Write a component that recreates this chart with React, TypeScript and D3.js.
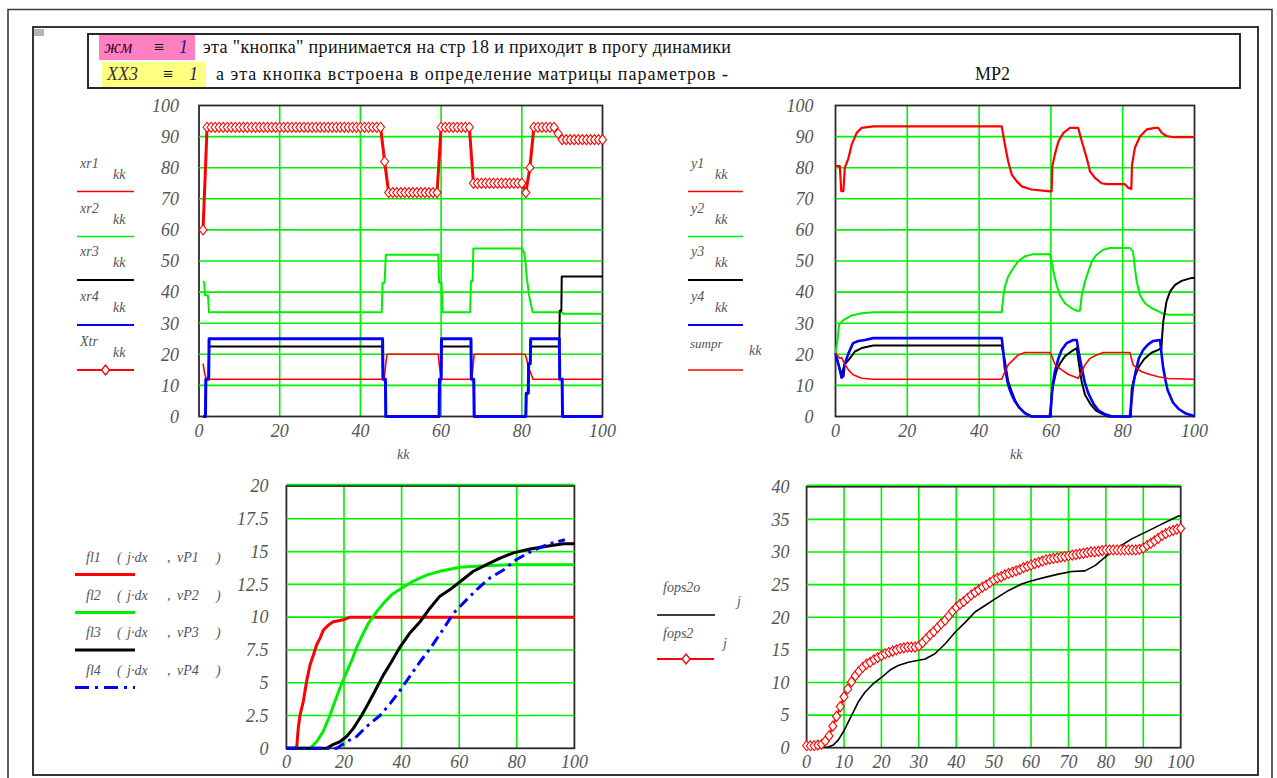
import * as d3 from 'd3';

type P = [number, number];

// ---------- top-left panel: xr1..xr4, Xtr against kk ----------
const xr1: P[] = [[1, 17], [1.4, 14], [1.8, 12], [45.9, 12], [46.2, 16], [46.6, 20], [59.3, 20], [59.6, 16], [60.1, 12], [67.6, 12], [67.9, 16], [68.2, 20], [80.8, 20], [81.2, 18.5], [81.6, 16], [82.8, 12], [100, 12]];
const xr2: P[] = [[1, 43.5], [1.3, 43], [1.5, 39], [2.2, 39], [2.5, 33.5], [45.3, 33.5], [45.5, 43], [46, 43], [46.3, 52], [59.3, 52], [59.5, 43], [60.1, 43], [60.4, 33.5], [67.2, 33.5], [67.4, 43.5], [67.8, 43.5], [68, 54], [80, 54], [80.5, 53], [80.9, 50], [81.2, 45], [81.8, 39], [82.7, 33.5], [89.9, 33.5], [90.3, 33], [100, 33]];
const xr3: P[] = [[1, 0], [1.6, 0], [1.7, 12], [2.4, 12], [2.5, 22.5], [45.5, 22.5], [45.6, 12], [46.2, 12], [46.3, 0], [59.5, 0], [59.6, 12], [60, 12], [60.1, 22.5], [67.4, 22.5], [67.5, 12], [68.1, 12], [68.2, 0], [81, 0], [81.1, 7.5], [81.6, 7.5], [81.7, 17], [82.1, 17], [82.2, 22.5], [89.3, 22.5], [89.4, 34], [89.8, 34], [89.9, 45], [100, 45]];
const xr4: P[] = [[1, 0], [1.6, 0], [1.7, 12], [2.4, 12], [2.5, 25], [45.5, 25], [45.6, 12], [46.2, 12], [46.3, 0], [59.5, 0], [59.6, 12], [60, 12], [60.1, 25], [67.4, 25], [67.5, 12], [68.1, 12], [68.2, 0], [81, 0], [81.1, 7.5], [81.6, 7.5], [81.7, 17], [82.1, 17], [82.2, 25], [89.3, 25], [89.4, 12], [90, 12], [90.1, 0], [100, 0]];
// Xtr for kk = 1..100
const xtr: number[] = [
  60, 93, 93, 93, 93, 93, 93, 93, 93, 93,
  93, 93, 93, 93, 93, 93, 93, 93, 93, 93,
  93, 93, 93, 93, 93, 93, 93, 93, 93, 93,
  93, 93, 93, 93, 93, 93, 93, 93, 93, 93,
  93, 93, 93, 93, 93, 82, 72, 72, 72, 72,
  72, 72, 72, 72, 72, 72, 72, 72, 72, 93,
  93, 93, 93, 93, 93, 93, 93, 75, 75, 75,
  75, 75, 75, 75, 75, 75, 75, 75, 75, 75,
  72, 80, 93, 93, 93, 93, 93, 93, 91, 89,
  89, 89, 89, 89, 89, 89, 89, 89, 89, 89,
];

// ---------- top-right panel: y1..y4, sumpr against kk ----------
const y1: P[] = [[0, 80.5], [1.2, 80.5], [1.6, 72.5], [2.2, 72.5], [2.6, 80], [3.6, 83], [4.5, 87.4], [5.9, 91.2], [7.3, 92.8], [10.5, 93.3], [46.3, 93.3], [47.2, 87.4], [48.1, 82], [49.1, 77.8], [50.5, 75.6], [51.9, 74], [54.6, 73], [59.7, 72.4], [60.2, 72.4], [60.4, 80.5], [61.1, 84.2], [62.1, 88.5], [63.5, 91.2], [65.3, 92.8], [67.6, 92.8], [68.6, 88.5], [70, 83], [70.9, 78.8], [72.3, 76.7], [74.1, 75], [75.5, 74.7], [80.6, 74.7], [81.6, 73.5], [82.4, 73.2], [82.6, 81], [83.4, 86.4], [84.8, 90], [86.7, 92.3], [89, 92.8], [89.9, 92.8], [90.9, 91.2], [92.2, 90.2], [94.1, 89.8], [100, 89.8]];
const y2: P[] = [[0, 20.3], [0.6, 25], [1, 29.5], [2.2, 31], [4.5, 32.5], [7.3, 33.2], [10.5, 33.5], [46.3, 33.5], [46.8, 39], [47.2, 41.8], [48.1, 45], [49.5, 47.7], [50.9, 49.9], [52.8, 51.5], [55.1, 52.2], [59.7, 52.2], [60.2, 50], [60.7, 46.6], [61.6, 42.3], [62.5, 39], [63.9, 36.4], [65.8, 34.8], [67.2, 34], [68.1, 34], [68.6, 39], [69.5, 43.4], [70.4, 46.6], [71.4, 49.9], [72.7, 52], [74.6, 53.6], [76.5, 54.2], [82, 54.2], [82.9, 53], [83.4, 47.7], [83.9, 43.4], [84.8, 39.1], [86.2, 36.4], [88.1, 34.8], [90, 33.8], [91.3, 33], [93, 32.7], [100, 32.7]];
const y3: P[] = [[0, 20.3], [1, 16], [1.7, 13.4], [2.5, 16.6], [4, 18.7], [5.4, 20.9], [7.3, 22], [10.5, 22.8], [46.3, 22.8], [47.2, 17.7], [48.1, 11.2], [49.1, 8], [50, 5.3], [50.9, 3.2], [52.3, 1.6], [53.7, 0.5], [55, 0], [60, 0], [60.2, 7], [60.6, 10], [61.5, 14.5], [62.5, 17], [64, 19.5], [65.8, 21], [67.2, 22], [67.8, 17], [68.6, 11], [69.5, 7], [71, 4], [72.5, 2], [74, 1], [76, 0], [82.3, 0], [82.5, 9], [83.4, 13], [84.5, 16], [86, 18.5], [88, 20.5], [89.9, 21.4], [90.8, 22], [91, 26], [91.3, 30.5], [92.2, 37], [93.2, 40.2], [94.6, 42.3], [96.4, 43.6], [99, 44.5], [100, 44.5]];
const y4: P[] = [[0, 20.3], [1, 16], [1.7, 12.5], [2.2, 13], [2.5, 16.6], [3.6, 20.3], [4.9, 23.6], [6.4, 24.3], [8.2, 24.6], [10.5, 25.2], [46.3, 25.2], [46.8, 20.3], [47.2, 15.5], [48.1, 10.1], [48.9, 7.5], [50, 4.8], [51.4, 2.6], [52.8, 1], [54.6, 0], [59.7, 0], [60.2, 5.8], [60.5, 10], [61.1, 14.4], [62.1, 18.7], [63, 21.4], [64.4, 23.6], [66.2, 24.6], [67.2, 24.6], [67.8, 20.3], [68.6, 15.5], [69.5, 10.7], [70.4, 7.5], [71.8, 4.2], [73.2, 2], [75.1, 0.7], [77, 0], [82, 0], [82.5, 5.8], [82.9, 10.1], [83.6, 14.4], [84.5, 18.7], [85.7, 21.4], [87.1, 23.2], [88.5, 24.3], [90.4, 24.6], [90.8, 20.3], [91.3, 15.5], [92, 11.2], [92.5, 8.5], [94, 4.5], [95.5, 2.5], [97.5, 1], [99.5, 0.3], [100, 0]];
const sumpr: P[] = [[0, 20.3], [1.2, 18.7], [1.7, 19], [2.5, 17], [3.6, 15], [4.9, 13.4], [7.3, 12.3], [10.5, 12], [46.3, 12], [47.2, 14.4], [48.1, 16.6], [49.5, 18.2], [50.9, 19.8], [52.8, 20.6], [59.7, 20.6], [60.4, 19], [61.1, 16.8], [63, 15], [64.9, 13.5], [67.6, 12.3], [68.6, 14.4], [69.5, 16.6], [70.9, 18.7], [72.7, 19.8], [74.6, 20.6], [82, 20.6], [82.9, 16.6], [83.9, 15.5], [85.3, 14.4], [87.6, 13.5], [89.9, 12.8], [92.7, 12.2], [100, 12]];

// ---------- bottom-left panel: fl1..fl4 (j*dx, vP) ----------
const fl1: P[] = [[0, 0], [3, 0], [3.6, 0.1], [4.1, 1.5], [4.7, 2.5], [5.9, 3.6], [7, 5.1], [8.2, 6.35], [9.35, 7.1], [10.5, 7.9], [11.7, 8.4], [12.8, 9], [14.6, 9.4], [16.3, 9.65], [19.8, 9.8], [22.1, 10], [100, 10]];
const fl2: P[] = [[0, 0], [8.2, 0], [10.5, 0.5], [12.8, 1.3], [15.1, 2.5], [16.9, 3.6], [18.6, 4.6], [20.9, 5.8], [22.7, 6.7], [24.4, 7.7], [26.1, 8.5], [28.4, 9.5], [31.3, 10.4], [33.7, 11.05], [36.5, 11.7], [40, 12.2], [44.1, 12.75], [48.7, 13.2], [53.3, 13.5], [60.3, 13.8], [67.2, 13.9], [78.8, 14], [100, 14]];
const fl3: P[] = [[0, 0], [14, 0], [16.3, 0.3], [18.6, 0.5], [20.9, 0.9], [23.2, 1.5], [26.1, 2.5], [28.4, 3.4], [31.3, 4.6], [33.7, 5.6], [36.5, 6.6], [39.4, 7.7], [42.9, 8.8], [46.4, 9.65], [49.9, 10.7], [53.3, 11.6], [56.8, 12.1], [60.3, 12.7], [64.9, 13.5], [69.5, 14], [74.2, 14.5], [78.8, 14.9], [84.6, 15.2], [90.4, 15.4], [96.2, 15.6], [100, 15.6]];
const fl4: P[] = [[0, 0], [17.5, 0], [20.9, 0.5], [24.4, 0.9], [27.8, 1.65], [32.5, 2.5], [36, 3.4], [39.4, 4.4], [42.9, 5.5], [46.4, 6.6], [49.9, 7.6], [54.5, 9.1], [58, 10.3], [62, 11.2], [66.1, 12.1], [70.7, 13], [75.4, 13.6], [79.9, 14.4], [85.7, 15.1], [91.5, 15.6], [96.7, 15.9]];

// ---------- bottom-right panel: fops2o, fops2 against j ----------
const fops2o: P[] = [[0, 0], [5.8, 0.1], [7.1, 0.4], [8.5, 1.2], [9.8, 2.4], [11.2, 4], [12.5, 5.5], [13.8, 7], [15.6, 8.5], [17.8, 9.8], [20.1, 10.8], [22.3, 11.9], [24.5, 12.6], [27.2, 13.1], [31.7, 13.6], [34.3, 14.4], [37, 15.9], [39.7, 17.7], [42.4, 19.2], [45, 20.8], [47.7, 21.8], [50.4, 22.8], [54, 24.1], [57.5, 25.1], [60.2, 25.6], [63.7, 26.1], [67.3, 26.6], [70.9, 27], [74.4, 27.1], [77.1, 27.9], [80.2, 29.4], [83.3, 30.7], [86.9, 32], [90.5, 33], [94, 34], [97.6, 35], [99.4, 35.5], [100, 35.5]];
// fops2 for j = 0..100
const fops2: number[] = [
  0.3, 0.3, 0.3, 0.4, 0.5, 1.0, 1.8, 3.3, 4.8, 6.3,
  7.8, 9.0, 10.1, 11.0, 11.7, 12.3, 12.8, 13.1, 13.5, 13.8,
  14.1, 14.4, 14.6, 14.8, 15.0, 15.2, 15.3, 15.4, 15.4, 15.4,
  15.6, 16.1, 16.7, 17.3, 17.8, 18.4, 19.0, 19.5, 20.2, 20.9,
  21.5, 22.0, 22.4, 22.9, 23.4, 23.8, 24.2, 24.6, 24.9, 25.3,
  25.7, 26.0, 26.2, 26.5, 26.7, 26.9, 27.1, 27.3, 27.6, 27.8,
  28.0, 28.2, 28.4, 28.6, 28.8, 28.9, 29.0, 29.1, 29.2, 29.3,
  29.4, 29.5, 29.6, 29.7, 29.8, 29.9, 30.0, 30.0, 30.1, 30.2,
  30.3, 30.3, 30.3, 30.3, 30.3, 30.3, 30.3, 30.3, 30.3, 30.4,
  30.6, 31.0, 31.3, 31.7, 32.1, 32.5, 32.8, 33.1, 33.3, 33.5,
  33.6,
];

const ticks20 = [0, 20, 40, 60, 80, 100];
const ticks10 = [0, 10, 20, 30, 40, 50, 60, 70, 80, 90, 100];
const ticksTop = [0, 10, 20, 30, 40, 50, 60, 70, 80, 90, 100];
const ticksBL = [0, 2.5, 5, 7.5, 10, 12.5, 15, 17.5, 20];
const ticksBR = [0, 5, 10, 15, 20, 25, 30, 35, 40];

const RED = '#ff0000';
const GREEN = '#00ee00';
const BLUE = '#0000ff';
const BLACK = '#000000';
const GRID = '#00f000';
const LABEL = '#555555';
const SERIF = '"Liberation Serif", "Times New Roman", serif';

interface Series {
  data: P[];
  color: string;
  width: number;
  dash?: string;
  marker?: boolean;
}

interface PanelProps {
  box: { left: number; right: number; top: number; bottom: number };
  yMax: number;
  xTicks: number[];
  yTicks: number[];
  series: Series[];
  topGrid?: boolean;
  labelGap: number;
}

const diamond = 'M0,-5L4,0L0,5L-4,0Z';

function Panel({ box, yMax, xTicks, yTicks, series, topGrid, labelGap }: PanelProps) {
  const x = d3.scaleLinear().domain([0, 100]).range([box.left, box.right]);
  const y = d3.scaleLinear().domain([0, yMax]).range([box.bottom, box.top]);
  const line = d3.line<P>().x(d => x(d[0])).y(d => y(d[1]));

  const vGrid = xTicks.filter(t => t > 0 && t < 100);
  const hGrid = yTicks.filter(t => t > 0 && (topGrid ? true : t < yMax));

  return (
    <g>
      {vGrid.map(t => (
        <line key={'v' + t} x1={x(t)} x2={x(t)} y1={box.top} y2={box.bottom} stroke={GRID} strokeWidth={1.6} />
      ))}
      <rect x={box.left} y={box.top} width={box.right - box.left} height={box.bottom - box.top}
        fill="none" stroke="#2a2a2a" strokeWidth={1.8} />
      {hGrid.map(t => (
        <line key={'h' + t} x1={box.left} x2={box.right} y1={t === yMax ? y(t) - 1.5 : y(t)} y2={t === yMax ? y(t) - 1.5 : y(t)}
          stroke={GRID} strokeWidth={1.6} />
      ))}
      {series.map((s, i) => (
        <path key={'s' + i} d={line(s.data) ?? ''} fill="none" stroke={s.color} strokeWidth={s.width}
          strokeDasharray={s.dash} strokeLinejoin="round" />
      ))}
      {series.filter(s => s.marker).map((s, i) => (
        <g key={'m' + i}>
          {s.data.map((d, k) => (
            <path key={k} d={diamond} transform={`translate(${x(d[0])},${y(d[1])})`}
              fill="#ffffff" stroke={s.color} strokeWidth={1.1} />
          ))}
        </g>
      ))}
      {yTicks.map(t => (
        <text key={'yl' + t} x={box.left - labelGap} y={y(t)} dy="0.35em" textAnchor="end"
          fontFamily={SERIF} fontStyle="italic" fontSize={18} fill={LABEL}>{t}</text>
      ))}
      {xTicks.map(t => (
        <text key={'xl' + t} x={x(t)} y={box.bottom + 20} textAnchor="middle"
          fontFamily={SERIF} fontStyle="italic" fontSize={18} fill={LABEL}>{t}</text>
      ))}
    </g>
  );
}

interface LegendItem {
  name: string;
  sub: string;
  color: string;
  width: number;
  dash?: string;
  marker?: boolean;
}

function Legend({ x0, x1, ys, items, subDx, nameDy, subDy }: {
  x0: number; x1: number; ys: number[]; items: LegendItem[]; subDx: number; nameDy: number; subDy: number;
}) {
  return (
    <g fontFamily={SERIF} fontStyle="italic" fontSize={14} fill={LABEL}>
      {items.map((it, i) => (
        <g key={i}>
          <text x={x0 + 3} y={ys[i] + nameDy}>{it.name}</text>
          <text x={x0 + subDx} y={ys[i] + subDy}>{it.sub}</text>
          <line x1={x0} x2={x1} y1={ys[i]} y2={ys[i]} stroke={it.color} strokeWidth={it.width} strokeDasharray={it.dash} />
          {it.marker && (
            <path d={diamond} transform={`translate(${(x0 + x1) / 2},${ys[i]})`} fill="#ffffff" stroke={it.color} strokeWidth={1.3} />
          )}
        </g>
      ))}
    </g>
  );
}

export default function App() {
  const tl = { left: 199, right: 602.5, top: 105.5, bottom: 416.5 };
  const tr = { left: 835.5, right: 1194.5, top: 105.5, bottom: 416.5 };
  const bl = { left: 286.4, right: 574.4, top: 486, bottom: 748.3 };
  const br = { left: 806.6, right: 1180.7, top: 486.7, bottom: 747.7 };

  const xtrPts: P[] = xtr.map((v, i) => [i + 1, v]);
  const fops2Pts: P[] = fops2.map((v, i) => [i, v]);

  const legendYs = [191.5, 236.5, 280, 325, 370];
  const blYs = [574.5, 612.5, 650, 687.5];

  return (
    <svg width={1277} height={778} style={{ display: 'block', position: 'absolute', left: 0, top: 0 }}>
      <rect x={0} y={0} width={1277} height={778} fill="#ffffff" />
      {/* page frames */}
      <path d="M8,778 L8,9.5 L1272,9.5 L1272,778" fill="none" stroke="#3a3a3a" strokeWidth={1.6} />
      <rect x={33} y={27} width={1225} height={748} fill="none" stroke="#222" strokeWidth={1.8} />
      <rect x={34} y={29} width={10} height={7} fill="#b4b4b4" />

      {/* header box */}
      <rect x={99} y={35} width={96} height={25} fill="#ff80c0" />
      <rect x={102} y={62} width={104} height={25} fill="#ffff80" />
      <rect x={88} y={34} width={1152} height={54} fill="none" stroke="#111" strokeWidth={1.8} />
      <g fontFamily={SERIF} fontSize={18} fill="#111">
        <text x={104} y={53} fontStyle="italic" fill="#3a0030">жм</text>
        <text x={154} y={53}>≡</text>
        <text x={179} y={53} fontStyle="italic" fill="#1a1a70">1</text>
        <text x={203} y={53} textLength={528} lengthAdjust="spacing">эта "кнопка" принимается на стр 18 и приходит в прогу динамики</text>
        <text x={107} y={80} fontStyle="italic" fill="#333">ХХ3</text>
        <text x={163} y={80}>≡</text>
        <text x={189} y={80} fontStyle="italic" fill="#1a1a70">1</text>
        <text x={216} y={80} textLength={512} lengthAdjust="spacing">а эта кнопка встроена в определение  матрицы параметров -</text>
        <text x={975} y={80}>МР2</text>
      </g>

      <Panel box={tl} yMax={100} xTicks={ticks20} yTicks={ticksTop} labelGap={20}
        series={[
          { data: xr1, color: RED, width: 1.6 },
          { data: xr2, color: GREEN, width: 2 },
          { data: xr3, color: BLACK, width: 2 },
          { data: xr4, color: BLUE, width: 3 },
          { data: xtrPts, color: RED, width: 3, marker: true },
        ]} />
      <Panel box={tr} yMax={100} xTicks={ticks20} yTicks={ticksTop} labelGap={22}
        series={[
          { data: y1, color: RED, width: 2.2 },
          { data: y2, color: GREEN, width: 2 },
          { data: y3, color: BLACK, width: 2 },
          { data: y4, color: BLUE, width: 2.6 },
          { data: sumpr, color: RED, width: 1.6 },
        ]} />
      <Panel box={bl} yMax={20} xTicks={ticks20} yTicks={ticksBL} topGrid labelGap={18}
        series={[
          { data: fl1, color: RED, width: 3 },
          { data: fl2, color: GREEN, width: 3 },
          { data: fl3, color: BLACK, width: 3 },
          { data: fl4, color: BLUE, width: 3, dash: '11,5,3,5' },
        ]} />
      <Panel box={br} yMax={40} xTicks={ticks10} yTicks={ticksBR} topGrid labelGap={17}
        series={[
          { data: fops2o, color: BLACK, width: 1.6 },
          { data: fops2Pts, color: RED, width: 2, marker: true },
        ]} />

      {/* axis titles */}
      <g fontFamily={SERIF} fontStyle="italic" fontSize={14} fill={LABEL}>
        <text x={397} y={459}>kk</text>
        <text x={1010} y={459}>kk</text>
      </g>

      <Legend x0={77} x1={134} ys={legendYs} subDx={36} nameDy={-24} subDy={-13}
        items={[
          { name: 'xr1', sub: 'kk', color: RED, width: 1.6 },
          { name: 'xr2', sub: 'kk', color: GREEN, width: 1.6 },
          { name: 'xr3', sub: 'kk', color: BLACK, width: 2 },
          { name: 'xr4', sub: 'kk', color: BLUE, width: 2 },
          { name: 'Xtr', sub: 'kk', color: RED, width: 2, marker: true },
        ]} />
      <Legend x0={688} x1={743} ys={legendYs} subDx={27} nameDy={-24} subDy={-13}
        items={[
          { name: 'y1', sub: 'kk', color: RED, width: 1.6 },
          { name: 'y2', sub: 'kk', color: GREEN, width: 1.6 },
          { name: 'y3', sub: 'kk', color: BLACK, width: 2 },
          { name: 'y4', sub: 'kk', color: BLUE, width: 2 },
        ]} />
      <g fontFamily={SERIF} fontStyle="italic" fontSize={13} fill={LABEL}>
        <text x={690} y={348}>sumpr</text>
        <text x={749} y={355} fontSize={14}>kk</text>
        <line x1={688} x2={743} y1={370} y2={370} stroke={RED} strokeWidth={1.6} />
      </g>

      {/* bottom-left legend */}
      <g fontFamily={SERIF} fontStyle="italic" fontSize={14} fill={LABEL}>
        {[['fl1', 'vP1'], ['fl2', 'vP2'], ['fl3', 'vP3'], ['fl4', 'vP4']].map(([n, v], i) => (
          <g key={n}>
            <text x={86} y={blYs[i] - 13}>{n}</text>
            <text x={117} y={blYs[i] - 13}>(</text>
            <text x={127} y={blYs[i] - 13}>j·dx</text>
            <text x={167} y={blYs[i] - 13}>,</text>
            <text x={177} y={blYs[i] - 13}>{v}</text>
            <text x={216} y={blYs[i] - 13}>)</text>
          </g>
        ))}
      </g>
      <line x1={75} x2={135} y1={blYs[0]} y2={blYs[0]} stroke={RED} strokeWidth={3} />
      <line x1={75} x2={135} y1={blYs[1]} y2={blYs[1]} stroke={GREEN} strokeWidth={3} />
      <line x1={75} x2={135} y1={blYs[2]} y2={blYs[2]} stroke={BLACK} strokeWidth={3} />
      <line x1={75} x2={135} y1={blYs[3]} y2={blYs[3]} stroke={BLUE} strokeWidth={3} strokeDasharray="14,6,3,6" />

      {/* bottom-right legend */}
      <g fontFamily={SERIF} fontStyle="italic" fontSize={14} fill={LABEL}>
        <text x={663} y={592}>fops2o</text>
        <text x={737} y={606}>j</text>
        <text x={663} y={638}>fops2</text>
        <text x={723} y={648}>j</text>
      </g>
      <line x1={657} x2={715} y1={615} y2={615} stroke={BLACK} strokeWidth={1.6} />
      <line x1={657} x2={714} y1={659} y2={659} stroke={RED} strokeWidth={2} />
      <path d={diamond} transform="translate(686,659)" fill="#ffffff" stroke={RED} strokeWidth={1.3} />
    </svg>
  );
}
